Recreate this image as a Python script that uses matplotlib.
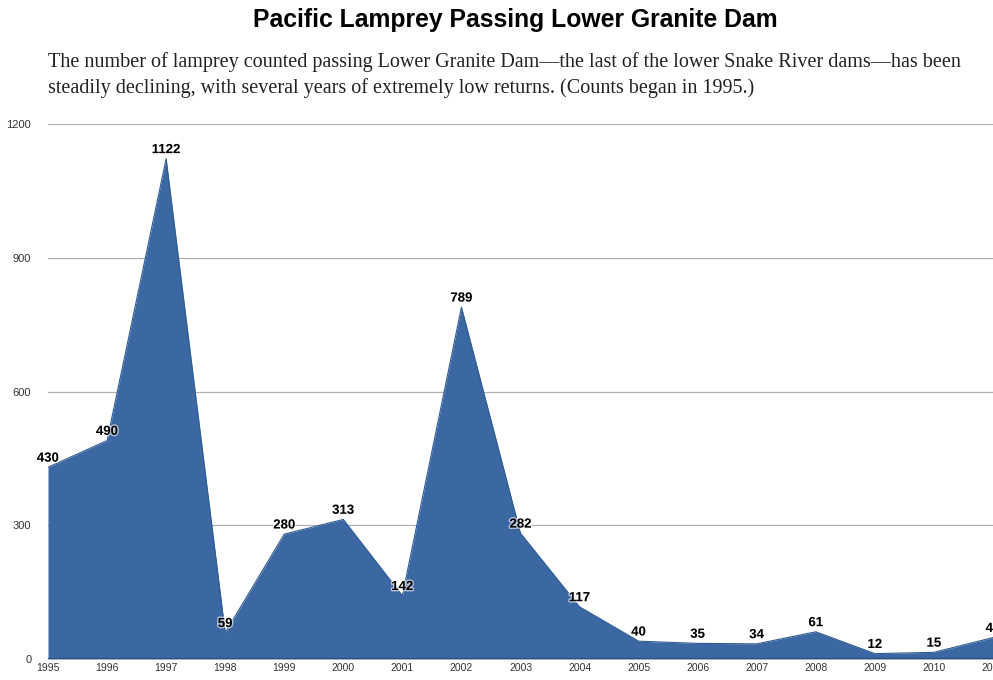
import matplotlib.pyplot as plt
import matplotlib.patheffects as pe

years = [1995, 1996, 1997, 1998, 1999, 2000, 2001, 2002, 2003,
         2004, 2005, 2006, 2007, 2008, 2009, 2010, 2011]
counts = [430, 490, 1122, 59, 280, 313, 142, 789, 282,
          117, 40, 35, 34, 61, 12, 15, 48]
y_ticks = [0, 300, 600, 900, 1200]

area_color = '#3b68a2'

fig = plt.figure(figsize=(9.93, 6.80), dpi=100)
ax = fig.add_axes([48 / 993, 1 - 659 / 680, 1 - 48 / 993, (659 - 124) / 680])

# area
ax.fill_between(years, counts, 0, color=area_color, linewidth=0, zorder=2)
ax.plot(years, counts, color='#2f5b92', linewidth=0.8, zorder=3)

# gridlines
for t in y_ticks:
    ax.axhline(t, color='#b0b0b0', linewidth=0.9, zorder=1)
ax.axhline(0, color='#2b4f7e', linewidth=1.6, zorder=4)

# value labels
for x, v in zip(years, counts):
    ax.text(x, v + 6, str(v), ha='center', va='bottom', fontsize=9.5,
            fontweight='bold', family='Liberation Sans', color='black', zorder=5,
            path_effects=[pe.withStroke(linewidth=2, foreground='white', alpha=0.6)])

ax.set_xlim(1995, 2011)
ax.set_ylim(0, 1200)
ax.set_xticks(years)
ax.set_xticklabels([str(y) for y in years], fontsize=7.5, family='Liberation Sans', color='#333333')
ax.set_yticks(y_ticks)
ax.set_yticklabels([str(t) for t in y_ticks], fontsize=8, family='Liberation Sans', color='#333333')
ax.tick_params(axis='both', length=0)
ax.tick_params(axis='y', pad=12)
ax.tick_params(axis='x', pad=3)
for s in ax.spines.values():
    s.set_visible(False)

fig.text(515 / 993, 1 - 20 / 680, 'Pacific Lamprey Passing Lower Granite Dam',
         ha='center', va='center', fontsize=17.8, fontweight='bold', family='Liberation Sans')
fig.text(48 / 993, 1 - 62 / 680,
         'The number of lamprey counted passing Lower Granite Dam\u2014the last of the lower Snake River dams\u2014has been',
         ha='left', va='center', fontsize=14.5, family='Liberation Serif', color='#222222')
fig.text(48 / 993, 1 - 88 / 680,
         'steadily declining, with several years of extremely low returns. (Counts began in 1995.)',
         ha='left', va='center', fontsize=14.5, family='Liberation Serif', color='#222222')

fig.savefig('out.png', dpi=100)
